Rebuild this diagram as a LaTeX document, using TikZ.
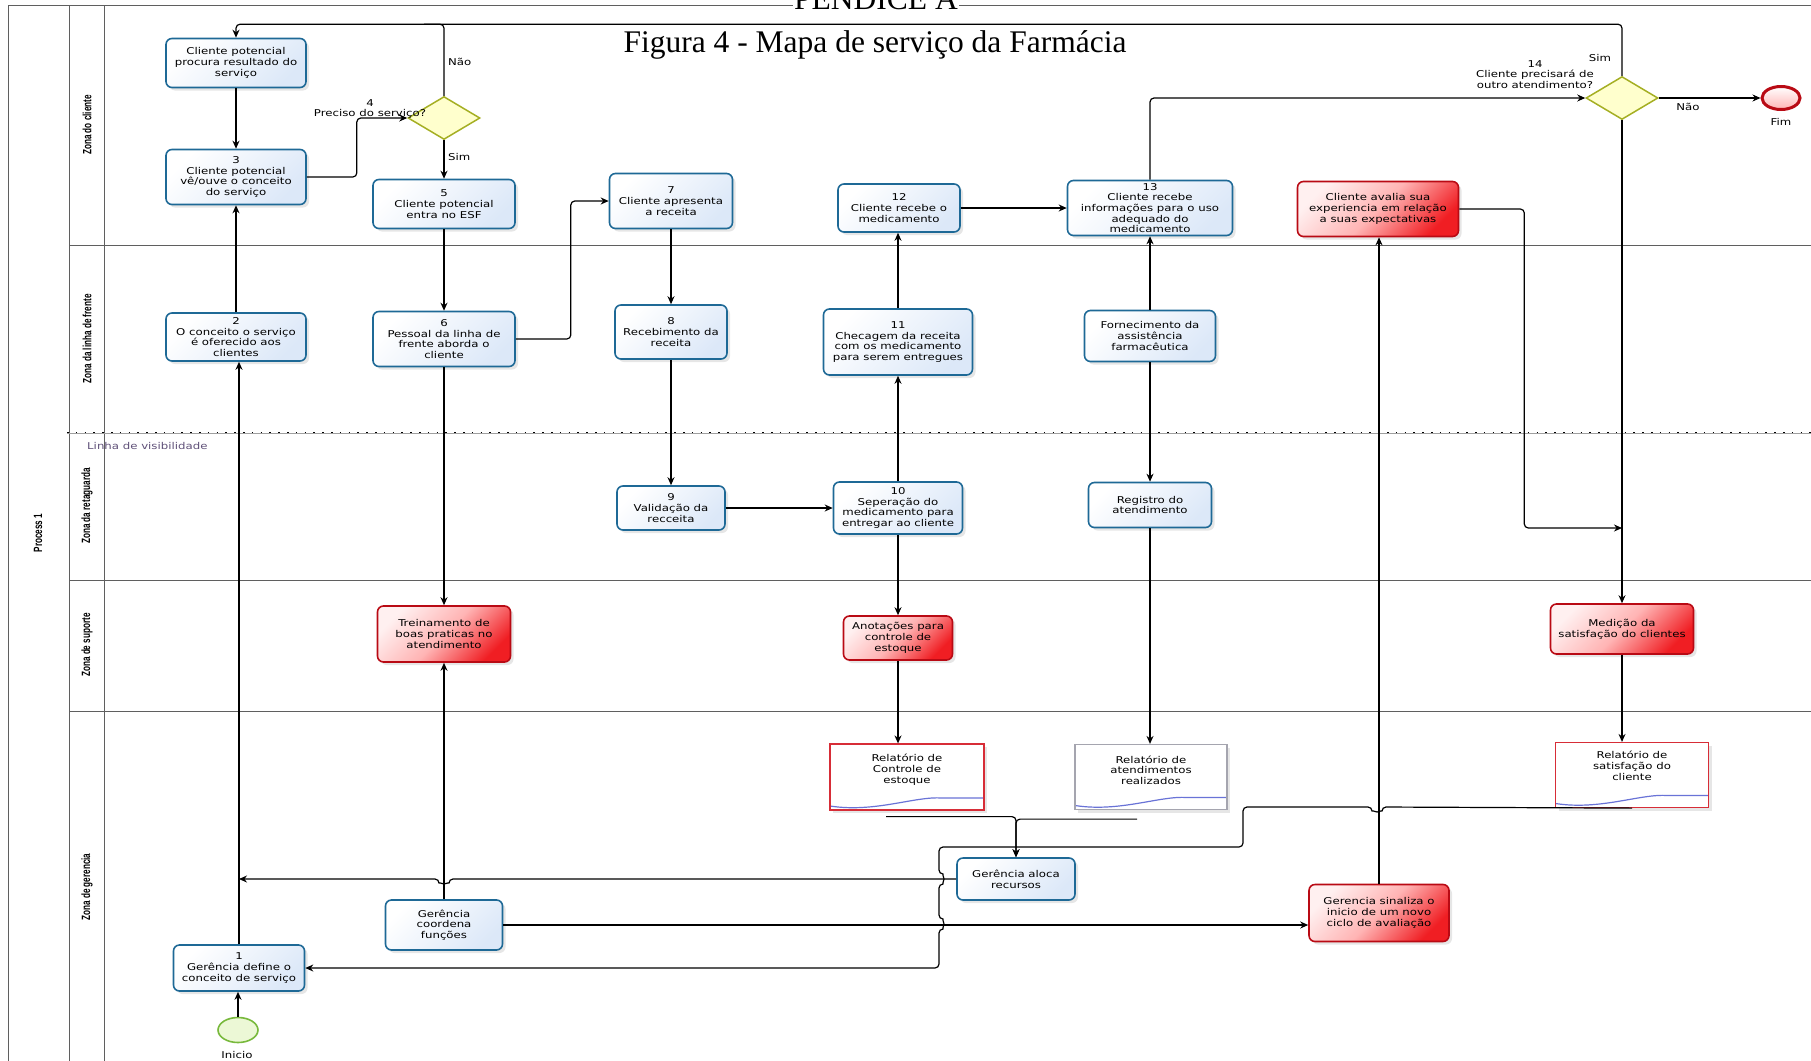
\documentclass[tikz,border=0pt]{standalone}
\usepackage{fontspec}
\setmainfont{DejaVu Sans}[FakeStretch=1.25]
\newfontfamily\titlefont{Liberation Serif}
\newfontfamily\lanefont{Liberation Sans}[FakeStretch=0.68]
\usepackage{tikz}
\usetikzlibrary{arrows.meta,positioning,shapes.geometric,calc,shadows}
\definecolor{darkteal}{RGB}{30,105,150}
\definecolor{lightteal}{RGB}{220,232,248}
\definecolor{darkred}{RGB}{185,10,20}
\definecolor{lightred}{RGB}{255,180,180}
\definecolor{brightred}{RGB}{240,30,35}
\definecolor{darkolive}{RGB}{165,175,35}
\definecolor{lightyellow}{RGB}{255,255,205}
\definecolor{darkgreen}{RGB}{120,185,60}
\definecolor{lightgreen}{RGB}{236,248,214}
\definecolor{wavecolor}{RGB}{105,115,215}
\definecolor{framegray}{RGB}{95,95,95}
\definecolor{docgray}{RGB}{165,165,175}
\definecolor{docred}{RGB}{215,45,55}
\definecolor{visgray}{RGB}{95,80,120}
\newcommand{\boxfont}{\fontsize{9.4}{10.7}\selectfont}

\begin{document}
\begin{tikzpicture}[
    x=1pt, y=-1pt,
    tam/.style 2 args={minimum width=#1pt, minimum height=#2pt},
    sombra/.style={drop shadow={shadow xshift=3pt, shadow yshift=-3pt, opacity=0.2}},
    tarefa/.style={rectangle, rounded corners=6pt, draw=darkteal, line width=1.6pt, top color=white, bottom color=lightteal, shading angle=45, align=center, inner sep=1pt, font=\boxfont, sombra},
    tarefavermelha/.style={rectangle, rounded corners=6pt, draw=darkred, line width=1.6pt, top color=red!6!white, bottom color=brightred, middle color=lightred, shading angle=45, align=center, inner sep=1pt, font=\boxfont, sombra},
    relatorio/.style={rectangle, draw=#1, line width=1.2pt, fill=white, align=center, inner sep=1pt, font=\boxfont, sombra,
        path picture={\draw[wavecolor, line width=1.2pt] ([yshift=4pt]path picture bounding box.south west) .. controls ([xshift=45pt,yshift=-3pt]path picture bounding box.south west) and ([xshift=85pt,yshift=14pt]path picture bounding box.south west) .. ([xshift=112pt,yshift=12pt]path picture bounding box.south west) -- ([yshift=12pt]path picture bounding box.south east);}},
    decisao/.style={diamond, draw=darkolive, line width=1.5pt, fill=lightyellow, minimum width=72pt, minimum height=43pt, inner sep=0pt, aspect=1.67},
    eventoinicio/.style={ellipse, draw=darkgreen, line width=1.6pt, fill=lightgreen, minimum width=40pt, minimum height=25pt, inner sep=0pt},
    eventofim/.style={ellipse, draw=darkred, line width=3pt, top color=white, bottom color=lightred, minimum width=38pt, minimum height=23pt, inner sep=0pt},
    rotulo/.style={font=\boxfont, inner sep=0pt, align=center},
    raia/.style={rotate=90, font=\lanefont\bfseries\fontsize{12}{13}\selectfont},
    moldura/.style={draw=framegray, line width=1pt},
    fluxo/.style={-{Stealth[length=8pt,width=7pt]}, line width=1.2pt, rounded corners=4pt},
    linha/.style={line width=1.2pt, rounded corners=4pt}
]
    \useasboundingbox (0,0) rectangle (1811,1060);
    \clip (0,0) rectangle (1811,1060);

    % Pool and lanes
    \draw[moldura] (8,1070) -- (8,5) -- (1820,5);
    \draw[moldura] (69,5) -- (69,1070);
    \draw[moldura] (104.5,5) -- (104.5,1070);
    \foreach \y in {245,580,711} {
        \draw[moldura, line width=0.8pt] (69,\y) -- (1820,\y);
    }
    \draw[framegray!60, line width=0.6pt] (67,433) -- (1820,433);
    \draw[line width=1.6pt, dash pattern=on 1.6pt off 7.2pt] (67,432.5) -- (1820,432.5);

    \node[raia] (zcli) at (87,125) {Zona do cliente};
    \node[raia] (zfre) at (87,339) {Zona da linha de frente};
    \node[raia] (zret) at (87,506) {Zona da retaguarda};
    \node[raia] (zsup) at (87,645) {Zona de suporte};
    \node[raia] (zger) at (87,887) {Zona de gerencia};
    \node[raia] (proc) at (38,533) {Process 1};
    \node[rotulo, text=visgray, anchor=west] (lvis) at (87,446) {Linha de visibilidade};

    % Title
    \node[font=\titlefont\fontsize{31.5}{34}\selectfont, anchor=base, fill=white, inner xsep=1pt, inner ysep=0pt] (apendice) at (876,9.5) {PENDICE A};
    \node[font=\titlefont\fontsize{31.5}{34}\selectfont, anchor=base] (titulo) at (875,52) {Figura 4 - Mapa de serviço da Farmácia};

    % Tasks
    \node[tarefa, tam={140}{49}] (cA) at (236,63) {Cliente potencial\\procura resultado do\\serviço};
    \node[tarefa, tam={140}{55}] (t3) at (236,177) {3\\Cliente potencial\\vê/ouve o conceito\\do serviço};
    \node[tarefa, tam={140}{48}] (t2) at (236,337) {2\\O conceito o serviço\\é oferecido aos\\clientes};
    \node[tarefa, tam={131}{46}] (t1) at (239,968) {1\\Gerência define o\\conceito de serviço};
    \node[tarefa, tam={142}{49}] (t5) at (444,204) {5\\Cliente potencial\\entra no ESF};
    \node[tarefa, tam={142}{55}] (t6) at (444,339) {6\\Pessoal da linha de\\frente aborda o\\cliente};
    \node[tarefa, tam={117}{50}] (coord) at (444,925) {Gerência\\coordena\\funções};
    \node[tarefa, tam={123}{55}] (t7) at (671,201) {7\\Cliente apresenta\\a receita};
    \node[tarefa, tam={112}{54}] (t8) at (671,332) {8\\Recebimento da\\receita};
    \node[tarefa, tam={108}{44}] (t9) at (671,508) {9\\Validação da\\recceita};
    \node[tarefa, tam={122}{48}] (t12) at (899,208) {12\\Cliente recebe o\\medicamento};
    \node[tarefa, tam={149}{66}] (t11) at (898,342) {11\\Checagem da receita\\com os medicamento\\para serem entregues};
    \node[tarefa, tam={129}{52}] (t10) at (898,508) {10\\Seperação do\\medicamento para\\entregar ao cliente};
    \node[tarefa, tam={118}{42}] (aloca) at (1016,879) {Gerência aloca\\recursos};
    \node[tarefa, tam={165}{55}, inner sep=0pt] (t13) at (1150,208) {13\\Cliente recebe\\informações para o uso\\adequado do\\medicamento};
    \node[tarefa, tam={131}{51}] (forn) at (1150,336) {Fornecimento da\\assistência\\farmacêutica};
    \node[tarefa, tam={123}{45}] (reg) at (1150,505) {Registro do\\atendimento};

    \node[tarefavermelha, tam={133}{56}] (trein) at (444,634) {Treinamento de\\boas praticas no\\atendimento};
    \node[tarefavermelha, tam={109}{44}] (anot) at (898,638) {Anotações para\\controle de\\estoque};
    \node[tarefavermelha, tam={161}{55}] (aval) at (1378,209) {Cliente avalia sua\\experiencia em relação\\a suas expectativas};
    \node[tarefavermelha, tam={143}{50}] (med) at (1622,629) {Medição da\\satisfação do clientes};
    \node[tarefavermelha, tam={140}{57}] (sinal) at (1379,913) {Gerencia sinaliza o\\inicio de um novo\\ciclo de avaliação};

    % Reports
    \node[relatorio=docred, tam={154}{66}] (relE) at (907,777) {Relatório de\\Controle de\\estoque\\[6pt]};
    \node[relatorio=docgray, tam={152}{65}] (relA) at (1151,777) {Relatório de\\atendimentos\\realizados\\[3pt]};
    \node[relatorio=docred, tam={153}{65}] (relS) at (1632,775) {Relatório de\\satisfação do\\cliente\\[8pt]};

    % Gateways and events
    \node[decisao] (g4) at (444,118) {};
    \node[decisao] (g14) at (1622,98) {};
    \node[eventoinicio] (inicio) at (238,1030) {};
    \node[eventofim] (fim) at (1781,98) {};

    \node[rotulo, anchor=south] (rot4) at (370,119) {4\\Preciso do serviço?};
    \node[rotulo, anchor=west] (nao4) at (448,62) {Não};
    \node[rotulo, anchor=west] (sim4) at (448,157) {Sim};
    \node[rotulo, anchor=south] (rot14) at (1535,89) {14\\Cliente precisará de\\outro atendimento?};
    \node[rotulo] (sim14) at (1600,58) {Sim};
    \node[rotulo] (nao14) at (1688,107) {Não};
    \node[rotulo] (rfim) at (1781,122) {Fim};
    \node[rotulo] (rinicio) at (237,1055) {Inicio};

    % Junction points
    \path (cA.north) ++(0,-13.5) coordinate (kTopo);
    \coordinate (jT1) at (t1.north |- aloca.west);
    \coordinate (jMed) at (1622,528);

    % Straight flows
    \foreach \a/\b in {cA/t3, g4/t5, t5/t6, t6/trein, t7/t8, t8/t9, t10/anot, anot/relE, forn/reg, reg/relA, g14/med, med/relS} {
        \draw[fluxo] (\a.south) -- (\a.south |- \b.north);
    }
    \foreach \a/\b in {inicio/t1, t1/t2, t2/t3, coord/trein, t10/t11, t11/t12, forn/t13, sinal/aval} {
        \draw[fluxo] (\a.north) -- (\a.north |- \b.south);
    }
    \foreach \a/\b in {t9/t10, t12/t13, g14/fim, coord/sinal} {
        \draw[fluxo] (\a.east) -- (\a.east -| \b.west);
    }

    % Bent flows
    \draw[fluxo] (t3.east) -- ++(50,0) |- (g4.west);
    \draw[linha] (g4.north) -- (g4.north |- kTopo) -- ++(-20,0);
    \draw[fluxo] (g14.north) |- (kTopo) -- (cA.north);
    \draw[fluxo] (t6.east) -- ++(55,0) |- (t7.west);
    \draw[fluxo] (t13.north) |- (g14.west);
    \draw[fluxo] (aval.east) -- ++(65,0) |- (jMed);
    \draw[fluxo] ([xshift=-21pt,yshift=-6pt]relE.south) -| (aloca.north);
    \draw[fluxo] ([xshift=-14pt,yshift=-9pt]relA.south) -| (aloca.north);
    \draw[fluxo] (aloca.west) -- (449,879) arc[start angle=0, end angle=180, radius=5] -- (jT1);
    \draw[fluxo] (relS.south) -- (1382,807) arc[start angle=0, end angle=180, radius=5] -- (1243,807) -- (1243,847) -- (939,847) -- (939,874)
        arc[start angle=-90, end angle=90, radius=5] -- (939,919) arc[start angle=-90, end angle=90, radius=5] |- (t1.east);
\end{tikzpicture}
\end{document}
